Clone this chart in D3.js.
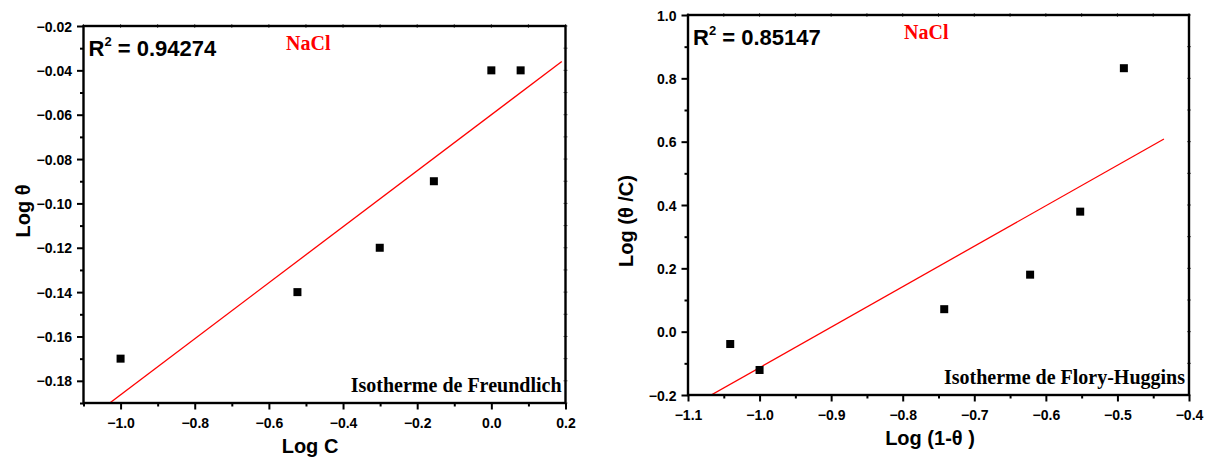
<!DOCTYPE html>
<html>
<head>
<meta charset="utf-8">
<script src="https://cdn.jsdelivr.net/npm/d3@7"></script>
<style>
  html, body { margin: 0; padding: 0; background: #fff; }
  svg { display: block; }
  .tick text { font-family: Arial, "Liberation Sans", sans-serif; font-weight: bold; font-size: 14px; fill: #000; }
</style>
</head>
<body>
<svg id="chart" width="1208" height="459"></svg>
<script>
// Freundlich isotherm: log C vs log θ
const freundlichLogC = [-1.0, -0.523, -0.301, -0.155, 0.0, 0.079];
const freundlichLogTheta = [-0.17, -0.14, -0.12, -0.09, -0.04, -0.04];
const freundlichXTicks = [-1.0, -0.8, -0.6, -0.4, -0.2, 0.0, 0.2];
const freundlichYTicks = [-0.18, -0.16, -0.14, -0.12, -0.10, -0.08, -0.06, -0.04, -0.02];
const freundlichXDomain = [-1.1, 0.2];
const freundlichYDomain = [-0.19, -0.02];
const freundlichFitRange = [-1.1, 0.19];

// Flory-Huggins isotherm: log(1-θ) vs log(θ/C)
const floryLogOneMinusTheta = [-1.041, -1.0, -0.742, -0.622, -0.552, -0.491];
const floryLogThetaOverC = [-0.039, -0.121, 0.071, 0.180, 0.379, 0.832];
const floryXTicks = [-1.1, -1.0, -0.9, -0.8, -0.7, -0.6, -0.5, -0.4];
const floryYTicks = [-0.2, 0.0, 0.2, 0.4, 0.6, 0.8, 1.0];
const floryXDomain = [-1.1, -0.4];
const floryYDomain = [-0.2, 1.0];
const floryFitRange = [-1.1, -0.435];

const svg = d3.select("#chart");
const SANS = "Arial, 'Liberation Sans', sans-serif";
const SERIF = "'Times New Roman', 'Liberation Serif', serif";

// least-squares straight line through the points
function linearFit(xs, ys) {
  const n = xs.length;
  const mx = d3.mean(xs), my = d3.mean(ys);
  let sxy = 0, sxx = 0;
  for (let i = 0; i < n; i++) {
    sxy += (xs[i] - mx) * (ys[i] - my);
    sxx += (xs[i] - mx) * (xs[i] - mx);
  }
  const slope = sxy / sxx;
  return { slope, intercept: my - slope * mx };
}

// minor ticks sit halfway between major ones (and beyond them, inside the domain)
function minorTicks(major, domain) {
  const sorted = major.slice().sort((a, b) => a - b);
  const step = Math.abs(sorted[1] - sorted[0]);
  const lo = Math.min(...domain), hi = Math.max(...domain);
  const out = [];
  for (let k = 0; k < 40; k++) {
    const v = sorted[0] - step / 2 + k * step;
    if (v > hi + 1e-9) break;
    if (v >= lo - 1e-9) out.push(v);
  }
  return out;
}

function drawPanel(p) {
  const x = d3.scaleLinear().domain(p.xDomain).range([p.left, p.right]);
  const y = d3.scaleLinear().domain(p.yDomain).range([p.bottom, p.top]);
  const g = svg.append("g");

  const clipId = "clip-" + p.id;
  svg.append("defs").append("clipPath").attr("id", clipId)
    .append("rect").attr("x", p.left).attr("y", p.top)
    .attr("width", p.right - p.left).attr("height", p.bottom - p.top);

  // minor ticks (bottom, left)
  const xMinor = minorTicks(p.xTicks, p.xDomain);
  const yMinor = minorTicks(p.yTicks, p.yDomain);
  g.append("g").attr("transform", `translate(0,${p.bottom})`)
    .call(d3.axisBottom(x).tickValues(xMinor).tickSize(3.5).tickFormat(""))
    .call(s => s.select(".domain").remove())
    .selectAll("line").attr("stroke", "#000").attr("stroke-width", 2);
  g.append("g").attr("transform", `translate(${p.left},0)`)
    .call(d3.axisLeft(y).tickValues(yMinor).tickSize(3.5).tickFormat(""))
    .call(s => s.select(".domain").remove())
    .selectAll("line").attr("stroke", "#000").attr("stroke-width", 2);

  // major ticks with labels
  const xAxis = g.append("g").attr("transform", `translate(0,${p.bottom})`)
    .call(d3.axisBottom(x).tickValues(p.xTicks).tickSize(6.5).tickPadding(9).tickFormat(p.xFormat));
  xAxis.select(".domain").remove();
  xAxis.selectAll("line").attr("stroke", "#000").attr("stroke-width", 2);

  const yAxis = g.append("g").attr("transform", `translate(${p.left},0)`)
    .call(d3.axisLeft(y).tickValues(p.yTicks).tickSize(6.5).tickPadding(5).tickFormat(p.yFormat));
  yAxis.select(".domain").remove();
  yAxis.selectAll("line").attr("stroke", "#000").attr("stroke-width", 2);
  yAxis.selectAll("text").attr("dy", "0.36em");

  // faint ticks along the top and right frame
  const allX = p.xTicks.concat(xMinor), allY = p.yTicks.concat(yMinor);
  g.selectAll(".tt").data(allX).join("line")
    .attr("x1", d => x(d)).attr("x2", d => x(d))
    .attr("y1", p.top - 2).attr("y2", p.top + 2)
    .attr("stroke", "#666").attr("stroke-width", 1);
  g.selectAll(".rt").data(allY).join("line")
    .attr("y1", d => y(d)).attr("y2", d => y(d))
    .attr("x1", p.right - 2).attr("x2", p.right + 2)
    .attr("stroke", "#666").attr("stroke-width", 1);

  // fitted line
  const fit = linearFit(p.xs, p.ys);
  g.append("line")
    .attr("clip-path", `url(#${clipId})`)
    .attr("x1", x(p.fitRange[0])).attr("y1", y(fit.slope * p.fitRange[0] + fit.intercept))
    .attr("x2", x(p.fitRange[1])).attr("y2", y(fit.slope * p.fitRange[1] + fit.intercept))
    .attr("stroke", "#ff0000").attr("stroke-width", 1.3);

  // frame
  g.append("rect")
    .attr("x", p.left).attr("y", p.top)
    .attr("width", p.right - p.left).attr("height", p.bottom - p.top)
    .attr("fill", "none").attr("stroke", "#000").attr("stroke-width", 2.4);

  // data points
  const sq = 8;
  g.selectAll(".pt").data(p.xs.map((v, i) => [v, p.ys[i]])).join("rect")
    .attr("x", d => x(d[0]) - sq / 2).attr("y", d => y(d[1]) - sq / 2)
    .attr("width", sq).attr("height", sq).attr("fill", "#000");

  // R² annotation
  const r2 = g.append("text")
    .attr("x", p.left + 5).attr("y", p.top + 30)
    .attr("font-family", SANS).attr("font-weight", "bold").attr("font-size", 22)
    .attr("fill", "#000");
  r2.append("tspan").text("R");
  r2.append("tspan").attr("font-size", 13).attr("dy", -10).text("2");
  r2.append("tspan").attr("dy", 10).text(" = " + p.r2);

  // salt label
  g.append("text")
    .attr("x", p.saltX).attr("y", p.top + 24)
    .attr("font-family", SERIF).attr("font-weight", "bold").attr("font-size", 20)
    .attr("fill", "#ff0000").text("NaCl");

  // isotherm name
  g.append("text")
    .attr("x", p.right - 4).attr("y", p.bottom - 11)
    .attr("text-anchor", "end")
    .attr("font-family", SERIF).attr("font-weight", "bold").attr("font-size", 20)
    .attr("fill", "#000").text(p.name);

  // axis titles
  g.append("text")
    .attr("x", p.xTitleX).attr("y", p.bottom + 50)
    .attr("text-anchor", "middle")
    .attr("font-family", SANS).attr("font-weight", "bold").attr("font-size", 20)
    .attr("fill", "#000").text(p.xTitle);
  g.append("text")
    .attr("transform", `translate(${p.yTitleX},${p.yTitleY}) rotate(-90)`)
    .attr("text-anchor", "middle")
    .attr("font-family", SANS).attr("font-weight", "bold").attr("font-size", 20)
    .attr("fill", "#000").text(p.yTitle);
}

drawPanel({
  id: "freundlich",
  left: 83.5, right: 565.5, top: 26, bottom: 403,
  xDomain: freundlichXDomain, yDomain: freundlichYDomain,
  xTicks: freundlichXTicks, yTicks: freundlichYTicks,
  xFormat: d3.format(".1f"), yFormat: d3.format(".2f"),
  xs: freundlichLogC, ys: freundlichLogTheta,
  fitRange: freundlichFitRange,
  r2: "0.94274", saltX: 286,
  name: "Isotherme de Freundlich",
  xTitle: "Log C", xTitleX: 310,
  yTitle: "Log θ", yTitleX: 30, yTitleY: 211
});

drawPanel({
  id: "flory",
  left: 688, right: 1189, top: 15, bottom: 395,
  xDomain: floryXDomain, yDomain: floryYDomain,
  xTicks: floryXTicks, yTicks: floryYTicks,
  xFormat: d3.format(".1f"), yFormat: d3.format(".1f"),
  xs: floryLogOneMinusTheta, ys: floryLogThetaOverC,
  fitRange: floryFitRange,
  r2: "0.85147", saltX: 904,
  name: "Isotherme de Flory-Huggins",
  xTitle: "Log (1-θ )", xTitleX: 930,
  yTitle: "Log (θ /C)", yTitleX: 633, yTitleY: 221
});
</script>
</body>
</html>
